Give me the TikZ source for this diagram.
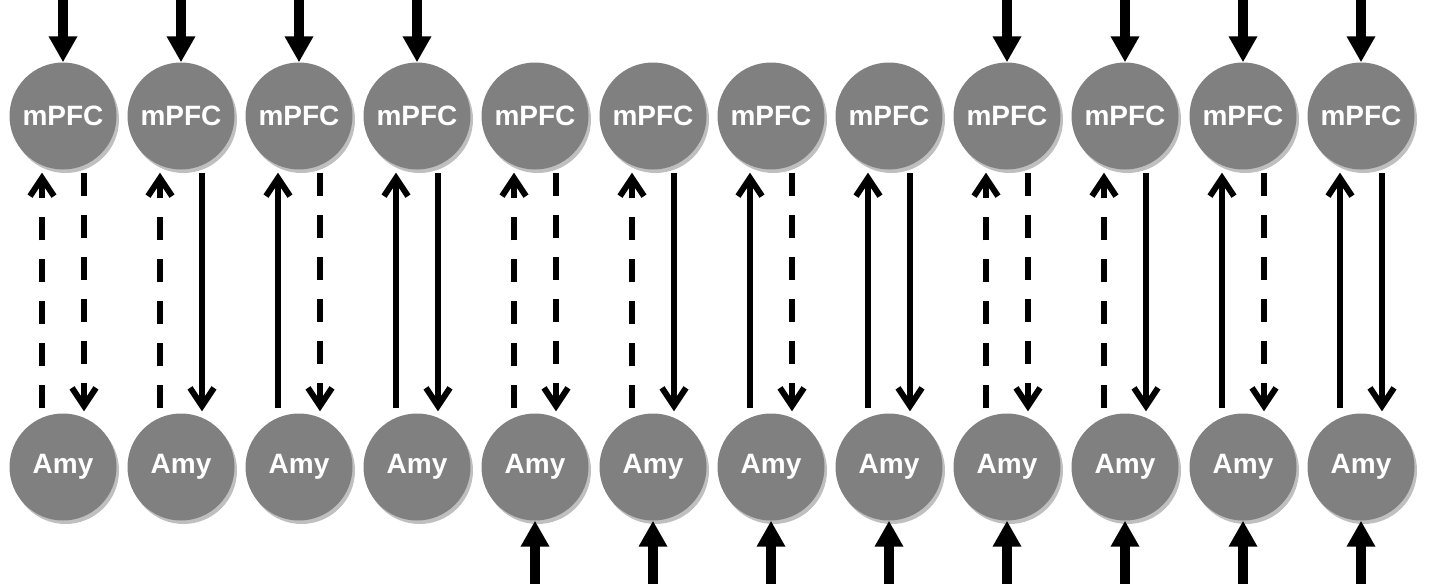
\documentclass[tikz,border=0pt]{standalone}
\usepackage{fontspec}
\setmainfont{Liberation Sans}
\usetikzlibrary{arrows.meta,shadows}
\begin{document}
\begin{tikzpicture}[x=1pt,y=-1pt,
  region/.style={circle,fill=gray50,minimum size=107pt,inner sep=0pt,text=white,
    font=\fontsize{28}{30}\selectfont\bfseries,
    drop shadow={shadow xshift=2.5pt,shadow yshift=-3.5pt,fill=black,opacity=0.25}},
  inputarrow/.style={line width=10pt,-{Triangle[width=27pt,length=26pt]}},
  link/.style={line width=6pt,-{Straight Barb[width=24pt,length=18pt,line width=6pt]}},
  dashlink/.style={link,dash pattern=on 23pt off 19pt},
  solidlink/.style={link}
]
\definecolor{gray50}{RGB}{128,128,128}
\useasboundingbox (0,0) rectangle (1436,584);
\foreach \i/\up/\dn/\top/\bot in {
  1/dashlink/dashlink/1/0, 2/dashlink/solidlink/1/0, 3/solidlink/dashlink/1/0, 4/solidlink/solidlink/1/0,
  5/dashlink/dashlink/0/1, 6/dashlink/solidlink/0/1, 7/solidlink/dashlink/0/1, 8/solidlink/solidlink/0/1,
  9/dashlink/dashlink/1/1, 10/dashlink/solidlink/1/1, 11/solidlink/dashlink/1/1, 12/solidlink/solidlink/1/1}{
  \pgfmathsetmacro{\cx}{63+118*(\i-1)}
  \node[region] (m\i) at (\cx,116) {\raisebox{-2pt}{mPFC}};
  \node[region] (a\i) at (\cx,467) {\raisebox{-2pt}{Amy}};
  \draw[\up] ([xshift=-21pt,yshift=5pt]a\i.north) -- ([xshift=-21pt,yshift=-3pt]m\i.south);
  \draw[\dn] ([xshift=21pt,yshift=-3pt]m\i.south) -- ([xshift=21pt,yshift=2pt]a\i.north);
  \ifnum\top=1
    \coordinate (t\i) at (\cx,-2);
    \draw[inputarrow] (t\i) -- (m\i.north);
  \fi
  \ifnum\bot=1
    \coordinate (b\i) at (\cx,586);
    \draw[inputarrow] (b\i) -- (a\i.south);
  \fi
}
\end{tikzpicture}
\end{document}
